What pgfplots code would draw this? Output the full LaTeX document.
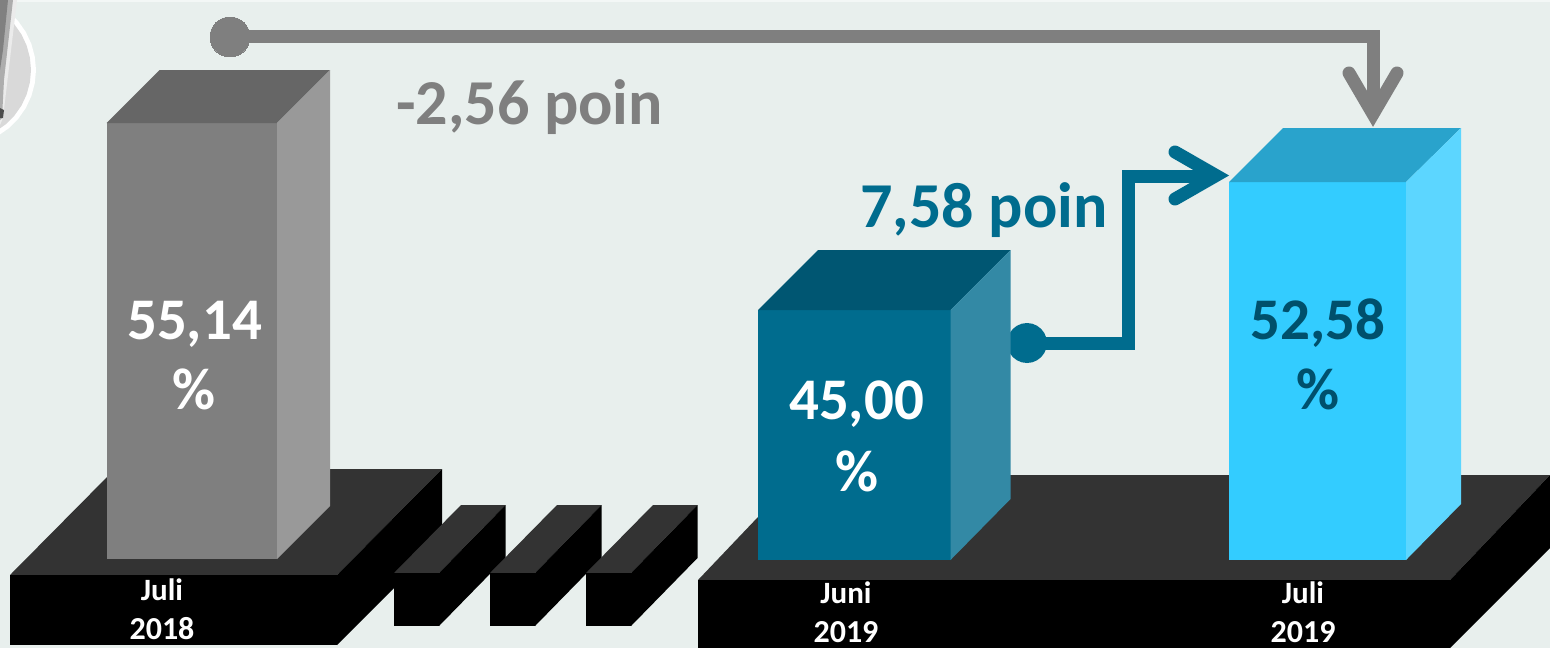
\documentclass[border=0pt]{standalone}
\usepackage{pgfplots}
\pgfplotsset{compat=1.18}
\usepackage{fontspec}
\setmainfont{Carlito}
\definecolor{bg}{HTML}{E8EFED}
\definecolor{grF}{HTML}{7F7F7F}\definecolor{grT}{HTML}{666666}\definecolor{grS}{HTML}{999999}
\definecolor{tlF}{HTML}{006C8E}\definecolor{tlT}{HTML}{005672}\definecolor{tlS}{HTML}{3389A5}
\definecolor{tlX}{HTML}{00506C}
\definecolor{cyF}{HTML}{33CCFF}\definecolor{cyT}{HTML}{29A3CC}\definecolor{cyS}{HTML}{5CD6FF}
\definecolor{baseT}{HTML}{333333}
\pgfplotsset{poly/.style={draw=none,fill=#1,forget plot,mark=none}}
\begin{document}
\begin{tikzpicture}
\begin{axis}[at={(0,0)},anchor=south west,scale only axis,width=1550bp,height=648bp,
  xmin=0,xmax=1550,ymin=0,ymax=648,y dir=reverse,hide axis,clip=true]
% background
\addplot[poly=bg] coordinates {(0,0)(1550,0)(1550,648)(0,648)} --cycle;
\addplot[poly=white!50!bg] coordinates {(0,0)(1550,0)(1550,2)(0,2)} --cycle;
% emblem: disc and white ring cut to the page's edge
\addplot[poly=white] coordinates {(-2,4.2)(8.9,11.8)(18.2,21.1)(25.8,32)(31.4,44)(34.8,56.8)(36,70)(34.8,83.2)(31.4,96)(25.8,108)(18.2,118.9)(8.9,128.2)(-2,135.8)} --cycle;
\addplot[poly=black!15] coordinates {(-4.5,8.5)(5.6,15.6)(14.4,24.4)(21.5,34.5)(26.7,45.7)(29.9,57.7)(31,70)(29.9,82.3)(26.7,94.3)(21.5,105.5)(14.4,115.6)(5.6,124.4)(-4.5,131.5)} --cycle;
\addplot[poly=black!8] coordinates {(7,0)(17,0)(3,118)(0,125)(0,60)} --cycle;
\addplot[poly=black!32] coordinates {(3,0)(13,0)(4,80)(2,118)(0,120)(0,20)} --cycle;
\addplot[poly=black!50] coordinates {(0,0)(8,0)(3,50)(0,70)} --cycle;
\addplot[poly=black!70] coordinates {(0,108)(4,110)(3,118)(0,118)} --cycle;
% base 1
\addplot[poly=baseT] coordinates {(115,469)(442,469)(337,575)(10,575)} --cycle;
\addplot[poly=black] coordinates {(337,575)(442,469)(442,540)(337,645)} --cycle;
\addplot[poly=black] coordinates {(10,575)(337,575)(337,645)(10,645)} --cycle;
% small blocks
\addplot[poly=baseT] coordinates {(461,505)(505.5,505)(439,573)(394,573)} --cycle;
\addplot[poly=black] coordinates {(439,573)(505.5,505)(505.5,558)(439,626)} --cycle;
\addplot[poly=black] coordinates {(394,573)(439,573)(439,626)(394,626)} --cycle;
\addplot[poly=baseT] coordinates {(557,505)(601.5,505)(535,573)(490,573)} --cycle;
\addplot[poly=black] coordinates {(535,573)(601.5,505)(601.5,558)(535,626)} --cycle;
\addplot[poly=black] coordinates {(490,573)(535,573)(535,626)(490,626)} --cycle;
\addplot[poly=baseT] coordinates {(653,505)(697.5,505)(631,573)(586,573)} --cycle;
\addplot[poly=black] coordinates {(631,573)(697.5,505)(697.5,558)(631,626)} --cycle;
\addplot[poly=black] coordinates {(586,573)(631,573)(631,626)(586,626)} --cycle;
% base 2
\addplot[poly=baseT] coordinates {(798,475)(1550,475)(1450,580)(698,580)} --cycle;
\addplot[poly=black] coordinates {(1450,580)(1550,475)(1550,548)(1450,648)} --cycle;
\addplot[poly=black] coordinates {(698,580)(1450,580)(1450,648)(698,648)} --cycle;
% bar 1
\addplot[poly=grF] coordinates {(106.5,123)(277,123)(277,559)(106.5,559)} --cycle;
\addplot[poly=grT] coordinates {(159.5,70)(330,70)(277,123)(106.5,123)} --cycle;
\addplot[poly=grS] coordinates {(277,123)(330,70)(330,506)(277,559)} --cycle;
% teal connector (behind bar 2): the dot is an outline, so that the bar's side covers it
\addplot[poly=tlF] coordinates {(1047,343)(1046.3,348.2)(1044.3,353)(1041.1,357.1)(1037,360.3)(1032.2,362.3)(1027,363)(1021.8,362.3)(1017,360.3)(1012.9,357.1)(1009.7,353)(1007.7,348.2)(1007,343)(1007.7,337.8)(1009.7,333)(1012.9,328.9)(1017,325.7)(1021.8,323.7)(1027,323)(1032.2,323.7)(1037,325.7)(1041.1,328.9)(1044.3,333)(1046.3,337.8)} --cycle;
\addplot[tlF,line width=13bp,miter limit=10,forget plot,mark=none] coordinates {(1027,343)(1128,343)(1128,176)(1215,176)};
\addplot[tlF,line width=13bp,line cap=round,miter limit=10,forget plot,mark=none] coordinates {(1175,152)(1216,175.5)(1175,199)};
% bar 2
\addplot[poly=tlF] coordinates {(758,310)(950.5,310)(950.5,560)(758,560)} --cycle;
\addplot[poly=tlT] coordinates {(818,250)(1010.5,250)(950.5,310)(758,310)} --cycle;
\addplot[poly=tlS] coordinates {(950.5,310)(1010.5,250)(1010.5,499)(950.5,560)} --cycle;
% bar 3
\addplot[poly=cyF] coordinates {(1229,182)(1406,182)(1406,560)(1229,560)} --cycle;
\addplot[poly=cyT] coordinates {(1283,128)(1461,128)(1406,182)(1229,182)} --cycle;
\addplot[poly=cyS] coordinates {(1406,182)(1461,128)(1461,504)(1406,560)} --cycle;
% grey connector
\addplot[only marks,mark=*,mark size=20.07pt,color=grF,mark options={draw=grF,fill=grF,line width=0pt},forget plot] coordinates {(230,37)};
\addplot[grF,line width=13bp,miter limit=10,forget plot,mark=none] coordinates {(230,37)(1373,37)(1373,114)};
\addplot[grF,line width=13bp,line cap=round,miter limit=10,forget plot,mark=none] coordinates {(1349,73)(1373,114)(1397,73)};
% text
\newcommand{\lbl}[5]{\node[text=#4,font=\fontsize{#3}{#3}\selectfont\bfseries,inner sep=0pt,anchor=base] at (axis cs:#1,#2) {#5};}
\lbl{194.5}{339}{59bp}{white}{55,14}
\lbl{194}{409}{59bp}{white}{\%}
\lbl{856.5}{419}{59bp}{white}{45,00}
\lbl{856.5}{491}{59bp}{white}{\%}
\lbl{1318}{339}{59bp}{tlX}{52,58}
\lbl{1318}{409}{59bp}{tlX}{\%}
\lbl{529.5}{124}{64bp}{grF}{-2,56 poin}
\lbl{984}{227}{64bp}{tlF}{7,58 poin}
\lbl{162}{600}{31bp}{white}{Juli}
\lbl{162}{639}{32bp}{white}{2018}
\lbl{846}{603}{31bp}{white}{Juni}
\lbl{846}{642}{32bp}{white}{2019}
\lbl{1303}{603}{31bp}{white}{Juli}
\lbl{1303}{642}{32bp}{white}{2019}
\end{axis}
\end{tikzpicture}
\end{document}
